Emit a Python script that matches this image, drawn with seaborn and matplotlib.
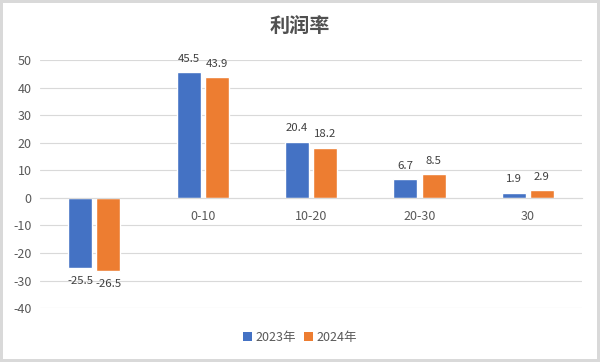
import matplotlib
matplotlib.use("Agg")
import matplotlib.pyplot as plt
import seaborn as sns
import pandas as pd
from matplotlib.patches import Patch

categories = ["", "0-10", "10-20", "20-30", "30"]
series_names = ["2023年", "2024年"]
values_2023 = [-25.5, 45.5, 20.4, 6.7, 1.9]
values_2024 = [-26.5, 43.9, 18.2, 8.5, 2.9]
yticks = [-40, -30, -20, -10, 0, 10, 20, 30, 40, 50]
title = "利润率"

colors = ["#4472C4", "#ED7D31"]

df = pd.DataFrame({
    "cat": categories * 2,
    "year": [series_names[0]] * len(categories) + [series_names[1]] * len(categories),
    "value": values_2023 + values_2024,
})

sns.set_theme(style="white")
plt.rcParams["font.family"] = ["Noto Sans CJK SC", "DejaVu Sans"]

fig = plt.figure(figsize=(6, 3.62), dpi=100)
fig.patch.set_facecolor("white")
fig.patch.set_edgecolor("#D9D9D9")
fig.patch.set_linewidth(3)
ax = fig.add_axes([0.067, 0.149, 0.903, 0.685])

sns.barplot(data=df, x="cat", y="value", hue="year", order=categories,
            hue_order=series_names, palette=colors, width=0.52, gap=0.15,
            saturation=1, ax=ax, legend=False)

ax.set_ylim(-40, 50)
ax.set_yticks(yticks)
ax.set_yticklabels([str(t) for t in yticks], fontsize=9, color="#595959")
ax.yaxis.grid(True, color="#D9D9D9", linewidth=0.8)
ax.set_axisbelow(True)
for s in ["top", "right", "left"]:
    ax.spines[s].set_visible(False)
ax.spines["bottom"].set_position(("data", 0))
ax.spines["bottom"].set_color("#D9D9D9")
ax.spines["bottom"].set_linewidth(0.8)
ax.tick_params(axis="x", length=0, pad=9, labelsize=9, labelcolor="#595959")
ax.tick_params(axis="y", length=0, pad=6)
ax.set_xlabel("")
ax.set_ylabel("")
ax.set_xlim(-0.5, len(categories) - 0.5)

for cont in ax.containers:
    for bar in cont:
        h = bar.get_height()
        xc = bar.get_x() + bar.get_width() / 2
        if h >= 0:
            ax.annotate(f"{h:.1f}", (xc, h), xytext=(0, 6), textcoords="offset points",
                        ha="center", va="bottom", fontsize=8.2, color="#404040")
        else:
            ax.annotate(f"{h:.1f}", (xc, h), xytext=(0, -6), textcoords="offset points",
                        ha="center", va="top", fontsize=8.2, color="#404040")

fig.text(0.5, 0.928, title, ha="center", va="center", fontsize=14.5, fontweight="bold",
         color="#505050")

handles = [Patch(facecolor=c, edgecolor="none") for c in colors]
fig.legend(handles, series_names, loc="center", bbox_to_anchor=(0.5, 0.068), ncol=2,
           frameon=False, fontsize=9, handlelength=0.7, handleheight=0.7,
           handletextpad=0.3, columnspacing=0.6, labelcolor="#595959")

fig.savefig("out.png", dpi=100, facecolor=fig.get_facecolor(), edgecolor=fig.get_edgecolor())
